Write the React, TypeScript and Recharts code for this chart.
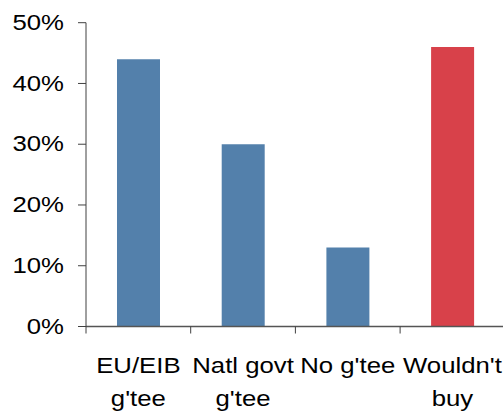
import React from 'react';
import { BarChart, Bar, XAxis, YAxis, Cell } from 'recharts';

// Survey shares by guarantee type
const categories = ["EU/EIB\ng'tee", "Natl govt\ng'tee", "No g'tee", "Wouldn't\nbuy"];
const shares = [44, 30, 13, 46];
const barColors = ['#5380ab', '#5380ab', '#5380ab', '#d8414a'];
const yTicks = [0, 10, 20, 30, 40, 50];

const data = categories.map((category, i) => ({ category, share: shares[i] }));

const FONT = '"Liberation Sans", Arial, sans-serif';
const FONT_SIZE = 23;
const STRETCH_X = 1.12; // slightly widened glyphs
const INK = '#000000';
const AXIS = '#404040';

const VIEW_W = 503;
const VIEW_H = 413;
const CHART_W = 520;
const CHART_H = 413;
const Y_AXIS_W = 78;
const MARGIN = { top: 22.7, right: 15.2, left: 8, bottom: 6.5 };
const PLOT_W = CHART_W - Y_AXIS_W - MARGIN.left - MARGIN.right;
const HALF_BAND = PLOT_W / categories.length / 2;

// Category label (wrapped on '\n') plus a tick mark on the left edge of its band
const CategoryTick = (props: any) => {
  const { x, y, payload } = props;
  const lines = String(payload.value).split('\n');
  const edge = x - HALF_BAND;
  return (
    <g>
      <line x1={edge} x2={edge} y1={y} y2={y + 7} stroke={AXIS} strokeWidth={1} />
      <g transform={`translate(${x},${y}) scale(${STRETCH_X},1)`}>
        <text x={0} y={0} textAnchor="middle" fill={INK} fontSize={FONT_SIZE} fontFamily={FONT}>
          {lines.map((line, i) => (
            <tspan key={i} x={0} dy={i === 0 ? 46.5 : 33}>
              {line}
            </tspan>
          ))}
        </text>
      </g>
    </g>
  );
};

const PercentTick = (props: any) => {
  const { x, y, payload } = props;
  return (
    <g transform={`translate(${x},${y}) scale(${STRETCH_X},1)`}>
      <text x={0} y={0} dy="0.31em" textAnchor="end" fill={INK} fontSize={FONT_SIZE} fontFamily={FONT}>
        {`${payload.value}%`}
      </text>
    </g>
  );
};

export default function App() {
  return (
    <div
      style={{
        position: 'absolute',
        left: 0,
        top: 0,
        width: VIEW_W,
        height: VIEW_H,
        overflow: 'hidden',
        background: '#ffffff',
      }}
    >
      <BarChart width={CHART_W} height={CHART_H} data={data} margin={MARGIN}>
        <XAxis
          dataKey="category"
          height={80}
          interval={0}
          tickLine={false}
          tickSize={0}
          tickMargin={0}
          axisLine={{ stroke: '#555555', strokeWidth: 1.3 }}
          tick={<CategoryTick />}
        />
        <YAxis
          domain={[0, 50]}
          ticks={yTicks}
          width={Y_AXIS_W}
          tickSize={8}
          tickMargin={14}
          axisLine={{ stroke: AXIS, strokeWidth: 1 }}
          tickLine={{ stroke: AXIS, strokeWidth: 1 }}
          tick={<PercentTick />}
        />
        <Bar dataKey="share" barSize={43} isAnimationActive={false}>
          {data.map((d, i) => (
            <Cell key={d.category} fill={barColors[i]} />
          ))}
        </Bar>
      </BarChart>
    </div>
  );
}
